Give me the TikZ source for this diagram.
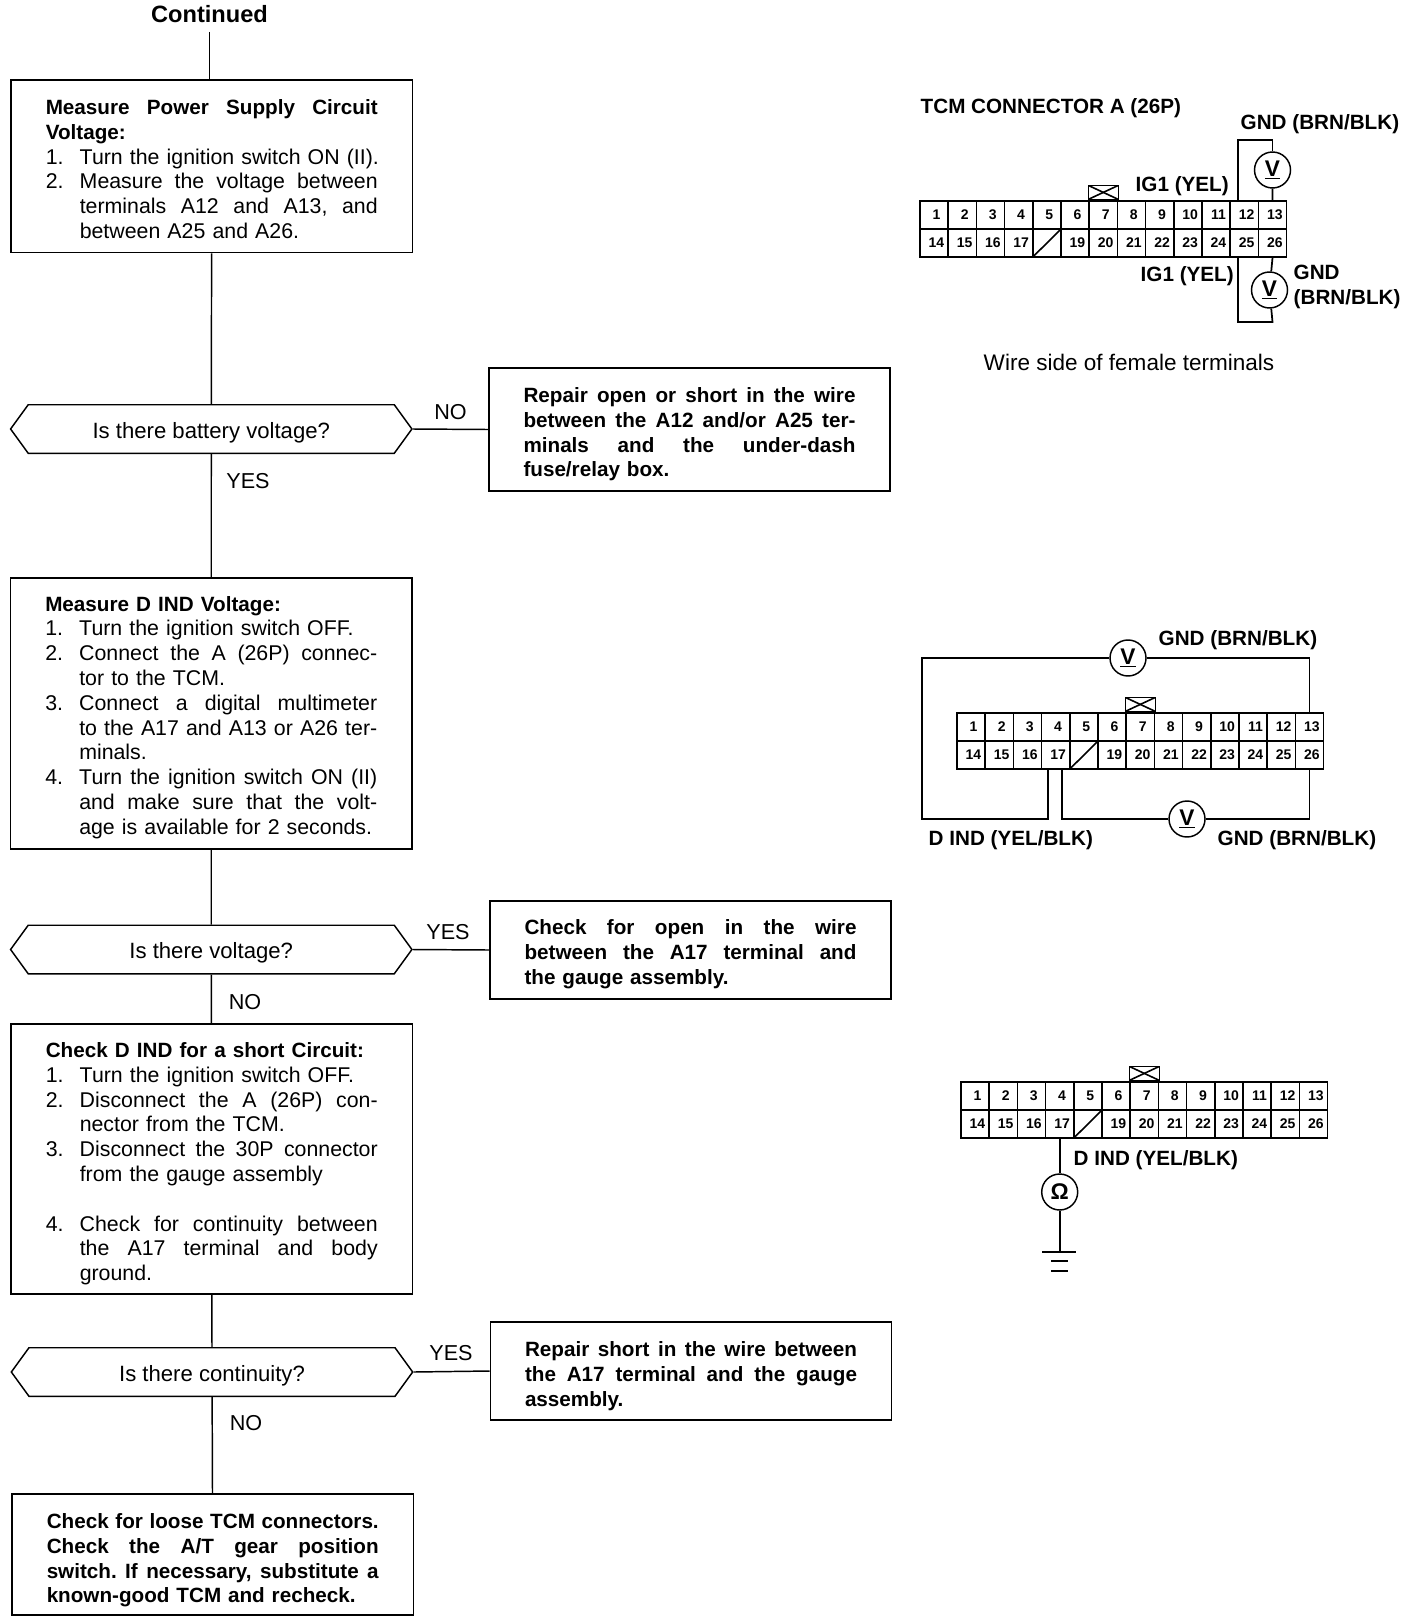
\documentclass[tikz,border=0pt]{standalone}
\usepackage{fontspec}
\setmainfont{Liberation Sans}
\usetikzlibrary{positioning, shapes.symbols}

\newcommand{\bd}{\fontsize{15.5}{18.6}\selectfont\bfseries}
\newcommand{\stretchy}{\frenchspacing\spaceskip=.33em plus 1em minus .08em\relax}
\newcommand{\jl}[1]{\hbox to \hsize{\stretchy #1}}
\newcommand{\rl}[1]{\hbox to \hsize{#1\hfil}}
\newcommand{\nj}[2]{\hbox to \hsize{\stretchy\hbox to 25.5pt{#1\hfil}#2}}
\newcommand{\nr}[2]{\hbox to \hsize{\hbox to 25.5pt{#1\hfil}#2\hfil}}
\newcommand{\indj}[1]{\hbox to \hsize{\stretchy\hskip 25.5pt #1}}
\newcommand{\indr}[1]{\hbox to \hsize{\hskip 25.5pt #1\hfil}}

\tikzset{
  stepbox/.style={draw, rectangle, line width=1.1pt, inner xsep=26pt, inner ysep=0pt, text width=249pt, execute at begin node={\vskip #1}, font=\fontsize{16}{18.6}\selectfont},
  stepbox/.default=0pt,
  boldbox/.style={stepbox=#1, font=\bd},
  boldbox/.default=0pt,
  hexq/.style={draw, signal, signal to=west and east, signal pointer angle=108, line width=1.1pt, inner sep=0pt, minimum width=301pt, minimum height=36.4pt, text height=16pt, text depth=2.4pt, font=\fontsize{16.6}{18.6}\selectfont},
  ans/.style={inner sep=0pt, font=\fontsize{16.2}{18.6}\selectfont},
  lbl/.style={inner sep=0pt, anchor=west, font=\bd},
  pinbox/.style={draw, rectangle, line width=1.2pt, inner sep=0pt, minimum width=21.15pt, minimum height=21pt, execute at begin node={\hspace*{3.5pt}}, font=\fontsize{10.5}{12}\selectfont\bfseries},
  keybox/.style={draw, rectangle, line width=1.2pt, inner sep=0pt, minimum width=22.5pt, minimum height=10.5pt},
  meter/.style={draw, circle, line width=1.1pt, inner sep=0pt, minimum size=27pt, font=\fontsize{17}{18.6}\selectfont\bfseries},
  wire/.style={line width=1.3pt}
}

\begin{document}
\begin{tikzpicture}[x=0.75pt, y=-0.75pt, line width=1.1pt]
  \useasboundingbox (0,0) rectangle (1408,1624);

  % Flowchart on the left
  \node[inner sep=0pt, minimum height=24.8pt, font=\fontsize{17.7}{20}\selectfont\bfseries] (cont) at (209.5,14.5) {Continued};
  \node[stepbox=-3pt, minimum height=129.5pt] (measpwr) at (211.75,166.3) {
    \jl{\bd Measure Power Supply Circuit}
    \rl{\bd Voltage:}
    \nr{1.}{Turn the ignition switch ON (II).}
    \nj{2.}{Measure the voltage between}
    \indj{terminals A12 and A13, and}
    \indr{between A25 and A26.}
  };
  \node[hexq] (qbatt) at (211.25,429) {Is there battery voltage?};
  \node[boldbox, minimum height=92pt] (rep1) at (689.5,429.5) {
    \jl{Repair open or short in the wire}
    \jl{between the A12 and/or A25 ter-}
    \jl{minals and the under-dash}
    \rl{fuse/relay box.}
  };
  \node[stepbox=-1.5pt, minimum height=203pt] (measind) at (211.25,713.5) {
    \rl{\bd Measure D IND Voltage:}
    \nr{1.}{Turn the ignition switch OFF.}
    \nj{2.}{Connect the A (26P) connec-}
    \indr{tor to the TCM.}
    \nj{3.}{Connect a digital multimeter}
    \indj{to the A17 and A13 or A26 ter-}
    \indr{minals.}
    \nj{4.}{Turn the ignition switch ON (II)}
    \indj{and make sure that the volt-}
    \indr{age is available for 2 seconds.}
  };
  \node[hexq] (qvolt) at (211.25,949.5) {Is there voltage?};
  \node[boldbox=-1.5pt, minimum height=73.5pt] (rep2) at (690.5,950) {
    \jl{Check for open in the wire}
    \jl{between the A17 terminal and}
    \rl{the gauge assembly.}
  };
  \node[stepbox, minimum height=202.5pt] (chkind) at (211.75,1159) {
    \rl{\bd Check D IND for a short Circuit:}
    \nr{1.}{Turn the ignition switch OFF.}
    \nj{2.}{Disconnect the A (26P) con-}
    \indr{nector from the TCM.}
    \nj{3.}{Disconnect the 30P connector}
    \indr{from the gauge assembly}
    \vskip 18.6pt
    \nj{4.}{Check for continuity between}
    \indj{the A17 terminal and body}
    \indr{ground.}
  };
  \node[hexq] (qcont) at (212,1372) {Is there continuity?};
  \node[boldbox, minimum height=73.5pt] (rep3) at (691,1371) {
    \jl{Repair short in the wire between}
    \jl{the A17 terminal and the gauge}
    \rl{assembly.}
  };
  \node[boldbox=1.5pt, minimum height=90.75pt] (chkloose) at (212.75,1554.5) {
    \jl{Check for loose TCM connectors.}
    \jl{Check the A/T gear position}
    \jl{switch. If necessary, substitute a}
    \rl{known-good TCM and recheck.}
  };

  \node[ans] (no1) at (450.5,412) {NO};
  \node[ans] (yes1) at (248,481) {YES};
  \node[ans] (yes2) at (448,932) {YES};
  \node[ans] (no2) at (245,1002) {NO};
  \node[ans] (yes3) at (451,1353) {YES};
  \node[ans] (no3) at (246,1423) {NO};

  \draw (cont) -- (cont |- measpwr.north);
  \draw (measpwr) -- (qbatt);
  \draw (qbatt) -- (measind);
  \draw (qbatt.east) -- (rep1.west);
  \draw (measind) -- (qvolt);
  \draw (qvolt.east) -- (rep2.west);
  \draw (qvolt) -- (chkind);
  \draw (chkind) -- (qcont);
  \draw (qcont.east) -- (rep3.west);
  \draw (qcont) -- (chkloose);

  % The three connector views
  \foreach \c/\cx/\cy in {a/934.1/215, b/971.1/727, c/975.1/1096} {
    \foreach \n in {1,...,13}
      \node[pinbox] (\c\n) at ({\cx+28.2*(\n-1)},\cy) {\n};
    \foreach \n in {14,...,17,19,20,...,26}
      \node[pinbox] (\c\n) at ({\cx+28.2*(\n-14)},{\cy+28}) {\n};
    \node[pinbox, path picture={\draw (path picture bounding box.south west) -- (path picture bounding box.north east);}] (\c18) at ({\cx+28.2*4},{\cy+28}) {};
    \node[keybox, above=0pt of \c7, path picture={
      \draw (path picture bounding box.south west) -- (path picture bounding box.north east);
      \draw (path picture bounding box.north west) -- (path picture bounding box.south east);}] (\c key) {};
  }

  % Connector A, power supply
  \node[lbl] (ttl) at (920,108) {TCM CONNECTOR A (26P)};
  \node[lbl] (gnda) at (1240,124) {GND (BRN/BLK)};
  \node[lbl] (iga) at (1135,186) {IG1 (YEL)};
  \node[lbl] (igb) at (1140,276) {IG1 (YEL)};
  \node[lbl] (gndb) at (1293,272.5) {GND};
  \node[lbl] (gndc) at (1293,299) {(BRN/BLK)};
  \node[inner sep=0pt, anchor=west, font=\fontsize{16.9}{18.6}\selectfont] (wside) at (983,362) {Wire side of female terminals};
  \node[meter] (va) at (1272.5,170) {\underline{V}};
  \node[meter] (vb) at (1269.5,290) {\underline{V}};
  \coordinate (atop) at (1272.5,140);
  \coordinate (abot) at (1272.5,322);
  \draw[wire] ([xshift=-4.7pt]a12.north) |- (atop) -- (va);
  \draw[wire] (va) -- (a13.north);
  \draw[wire] ([xshift=-4.7pt]a25.south) |- (abot) -- (vb);
  \draw[wire] (vb) -- (a26.south);

  % D IND voltage
  \node[lbl] (gndd) at (1158,640) {GND (BRN/BLK)};
  \node[lbl] (dinda) at (928,840) {D IND (YEL/BLK)};
  \node[lbl] (gnde) at (1217,840) {GND (BRN/BLK)};
  \node[meter] (vc) at (1128,658) {\underline{V}};
  \node[meter] (vd) at (1187,819) {\underline{V}};
  \coordinate (bltop) at (922,658);
  \coordinate (blbot) at (922,819);
  \draw[wire] ([xshift=-5.8pt]b17.south) |- (blbot) -- (bltop) -- (vc);
  \draw[wire] (vc) -| (b13.north);
  \draw[wire] ([xshift=4.7pt]b17.south) |- (vd);
  \draw[wire] (vd) -| (b26.south);

  % D IND to ground
  \node[lbl] (dindb) at (1073,1160) {D IND (YEL/BLK)};
  \node[meter] (vo) at (1059.7,1192) {Ω};
  \coordinate (gnd) at (1059.7,1252);
  \coordinate (gndm) at (1059.7,1261);
  \coordinate (gndl) at (1059.7,1271);
  \draw[wire] (c17.south) -- (vo);
  \draw[wire] (vo) -- (gnd);
  \draw[wire] ([xshift=-13pt]gnd) -- ([xshift=12pt]gnd);
  \draw[line width=1.8pt] ([xshift=-6.3pt]gndm) -- ([xshift=6pt]gndm);
  \draw[line width=1.8pt] ([xshift=-6.3pt]gndl) -- ([xshift=6pt]gndl);
\end{tikzpicture}
\end{document}
